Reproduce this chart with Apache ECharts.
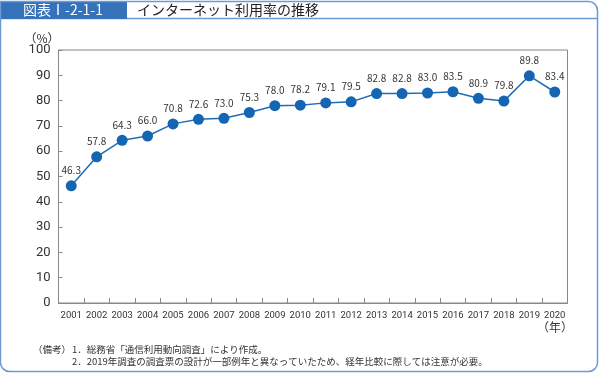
<!DOCTYPE html>
<html><head><meta charset="utf-8">
<script src="https://cdn.jsdelivr.net/npm/echarts@6/dist/echarts.min.js"></script>
<style>html,body{margin:0;padding:0;background:#fff}#c{width:600px;height:374px}</style>
</head><body><div id="c"></div>
<script>
const years = ['2001','2002','2003','2004','2005','2006','2007','2008','2009','2010','2011','2012','2013','2014','2015','2016','2017','2018','2019','2020'];
const usage = [46.3,57.8,64.3,66.0,70.8,72.6,73.0,75.3,78.0,78.2,79.1,79.5,82.8,82.8,83.0,83.5,80.9,79.8,89.8,83.4];
const yTicks = [0,10,20,30,40,50,60,70,80,90,100];

const chart = echarts.init(document.getElementById('c'), null, {renderer:'canvas'});
const narrow = '"Roboto","Noto Sans",sans-serif';
const jp = '"Noto Sans CJK JP",sans-serif';
const frameBlue = '#6c9ad3';
chart.setOption({
  animation:false,
  grid:{left:58.5,right:32.5,top:50,bottom:71,show:true,borderColor:'#888',borderWidth:1,backgroundColor:'transparent'},
  xAxis:{type:'category',data:years,boundaryGap:true,
    axisLine:{lineStyle:{color:'#888',width:1}},
    axisTick:{show:true,inside:true,length:5,lineStyle:{color:'#888'}},
    axisLabel:{interval:0,fontFamily:narrow,fontSize:9.5,color:'#333',margin:8}},
  yAxis:{type:'value',min:0,max:100,interval:10,
    axisLine:{show:true,lineStyle:{color:'#888',width:1}},
    axisTick:{show:true,inside:true,length:4,lineStyle:{color:'#888'}},
    splitLine:{show:false},
    axisLabel:{fontFamily:narrow,fontSize:13,color:'#333',margin:8,
      formatter:v=>yTicks.includes(v)?String(v):''}},
  series:[{type:'line',data:usage,symbol:'circle',symbolSize:11,
    lineStyle:{color:'#1e6db6',width:1.5},
    itemStyle:{color:'#1466b2'},
    label:{show:true,position:'top',distance:5,fontFamily:jp,fontSize:10,color:'#333',
      formatter:p=>p.value.toFixed(1)}}],
  graphic:[
    {type:'rect',shape:{x:0.5,y:1.5,width:597,height:370,r:[0,9,9,9]},style:{fill:'none',stroke:frameBlue,lineWidth:1.5},z:1},
    {type:'line',shape:{x1:0,y1:18.5,x2:597,y2:18.5},style:{stroke:frameBlue,lineWidth:1.5}},
    {type:'rect',shape:{x:0,y:1,width:127,height:18},style:{fill:'#3572ba'}},
    {type:'text',x:63,y:10,style:{text:'図表Ⅰ-2-1-1',fill:'#fff',font:'14px '+jp,align:'center',verticalAlign:'middle'}},
    {type:'text',x:137,y:10,style:{text:'インターネット利用率の推移',fill:'#222',font:'14px '+jp,align:'left',verticalAlign:'middle'}},
    {type:'text',x:42,y:38,style:{text:'（%）',fill:'#333',font:'12px '+jp,align:'center',verticalAlign:'middle'}},
    {type:'text',x:555,y:327,style:{text:'（年）',fill:'#333',font:'12px '+jp,align:'center',verticalAlign:'middle'}},
    {type:'text',x:33,y:349,style:{text:'（備考）',fill:'#333',font:'9.5px '+jp,align:'left',verticalAlign:'middle'}},
    {type:'text',x:72,y:349,style:{text:'1．総務省「通信利用動向調査」により作成。',fill:'#333',font:'9.5px '+jp,align:'left',verticalAlign:'middle'}},
    {type:'text',x:72,y:361,style:{text:'2．2019年調査の調査票の設計が一部例年と異なっていたため、経年比較に際しては注意が必要。',fill:'#333',font:'9.5px '+jp,align:'left',verticalAlign:'middle'}}
  ]
});
</script></body></html>
